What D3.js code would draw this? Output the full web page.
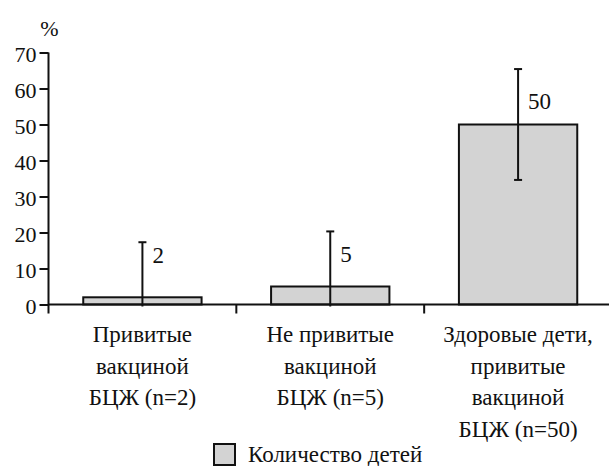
<!DOCTYPE html>
<html>
<head>
<meta charset="utf-8">
<script src="https://cdn.jsdelivr.net/npm/d3@7"></script>
<style>
  body { margin: 0; background: #fff; }
  #chart { position: relative; width: 609px; height: 466px; overflow: hidden; }
  #chart svg { position: absolute; left: 0; top: 0; }
  .lbl {
    position: absolute;
    font-family: "Liberation Serif", "Times New Roman", serif;
    color: #111;
    white-space: pre;
  }
</style>
</head>
<body>
<div id="chart"></div>
<script>
// data
const categories = [
  ["Привитые", "вакциной", "БЦЖ (n=2)"],
  ["Не привитые", "вакциной", "БЦЖ (n=5)"],
  ["Здоровые дети,", "привитые", "вакциной", "БЦЖ (n=50)"]
];
const counts = [2, 5, 50];
const errors = [15.3, 15.3, 15.4];
const yTicks = [0, 10, 20, 30, 40, 50, 60, 70];
const seriesName = "Количество детей";

const W = 609, H = 466;
const plot = { left: 48.5, right: 612, top: 52.5, bottom: 304.5 };

const chart = d3.select("#chart");

const svg = chart
  .append("svg")
  .attr("width", W)
  .attr("height", H);

// text is laid out as html so the serif face is used;
// y is the baseline of the first line
function label(x, y, str, size, anchor, lineH) {
  const L = lineH || size;
  const shift = anchor === "middle" ? "-50%" : anchor === "end" ? "-100%" : "0";
  return chart.append("div")
    .attr("class", "lbl")
    .style("left", x + "px")
    .style("top", (y - (L / 2 + 0.3375 * size)) + "px")
    .style("font-size", size + "px")
    .style("line-height", L + "px")
    .style("text-align", anchor === "middle" ? "center" : "left")
    .style("transform", `translateX(${shift})`)
    .text(str);
}

const keys = categories.map((c, i) => i);

const x = d3.scaleBand()
  .domain(keys)
  .range([plot.left, plot.right])
  .paddingInner(0.37)
  .paddingOuter(0.185);

const y = d3.scaleLinear()
  .domain([0, 70])
  .range([plot.bottom, plot.top]);

const step = x.step();

// y axis
const yAxis = svg.append("g")
  .attr("transform", `translate(${plot.left},0)`)
  .call(d3.axisLeft(y).tickValues(yTicks).tickSize(9).tickFormat(""));
yAxis.select(".domain").remove();
yAxis.selectAll(".tick line").attr("stroke", "#111").attr("stroke-width", 2);
yAxis.selectAll(".tick text").remove();

yTicks.forEach(t => label(plot.left - 12, y(t) + 9.5, String(t), 22, "end"));

svg.append("line")
  .attr("x1", plot.left).attr("x2", plot.left)
  .attr("y1", plot.top).attr("y2", plot.bottom + 9)
  .attr("stroke", "#111").attr("stroke-width", 2);

label(plot.left + 1, 36, "%", 22, "middle");

// bars
svg.selectAll("rect.bar")
  .data(counts)
  .enter()
  .append("rect")
  .attr("class", "bar")
  .attr("x", (d, i) => x(i))
  .attr("y", d => y(d))
  .attr("width", x.bandwidth())
  .attr("height", d => y(0) - y(d))
  .attr("fill", "#d3d3d3")
  .attr("stroke", "#111")
  .attr("stroke-width", 2);

// x axis
svg.append("line")
  .attr("x1", plot.left).attr("x2", plot.right)
  .attr("y1", plot.bottom).attr("y2", plot.bottom)
  .attr("stroke", "#111").attr("stroke-width", 2);

const boundaries = keys.slice(1).map(i => x(i) + x.bandwidth() / 2 - step / 2);
svg.selectAll("line.xtick")
  .data(boundaries)
  .enter()
  .append("line")
  .attr("class", "xtick")
  .attr("x1", d => d).attr("x2", d => d)
  .attr("y1", plot.bottom).attr("y2", plot.bottom + 9)
  .attr("stroke", "#111").attr("stroke-width", 2);

// error bars
const capW = 8;
const err = svg.append("g");
counts.forEach((v, i) => {
  const cx = x(i) + x.bandwidth() / 2;
  const hi = v + errors[i];
  const lo = Math.max(0, v - errors[i]);
  err.append("line")
    .attr("x1", cx).attr("x2", cx)
    .attr("y1", y(hi)).attr("y2", v - errors[i] < 0 ? y(lo) + 2 : y(lo))
    .attr("stroke", "#111").attr("stroke-width", 2);
  err.append("line")
    .attr("x1", cx - capW / 2).attr("x2", cx + capW / 2)
    .attr("y1", y(hi)).attr("y2", y(hi))
    .attr("stroke", "#111").attr("stroke-width", 2);
  if (v - errors[i] >= 0) {
    err.append("line")
      .attr("x1", cx - capW / 2).attr("x2", cx + capW / 2)
      .attr("y1", y(lo)).attr("y2", y(lo))
      .attr("stroke", "#111").attr("stroke-width", 2);
  }
});

// value labels, placed beside the upper whisker
const labelDy = [21, 31, 40];
counts.forEach((v, i) => {
  label(x(i) + x.bandwidth() / 2 + 10, y(v + errors[i]) + labelDy[i], String(v), 23, "start");
});

// category labels
categories.forEach((lines, i) => {
  label(x(i) + x.bandwidth() / 2, plot.bottom + 38.5, lines.join("\n"), 23, "middle", 31.5);
});

// legend
svg.append("rect")
  .attr("x", 214).attr("y", 444)
  .attr("width", 21).attr("height", 21)
  .attr("fill", "#d3d3d3")
  .attr("stroke", "#111").attr("stroke-width", 2);
label(248, 462, seriesName, 23, "start");
</script>
</body>
</html>
